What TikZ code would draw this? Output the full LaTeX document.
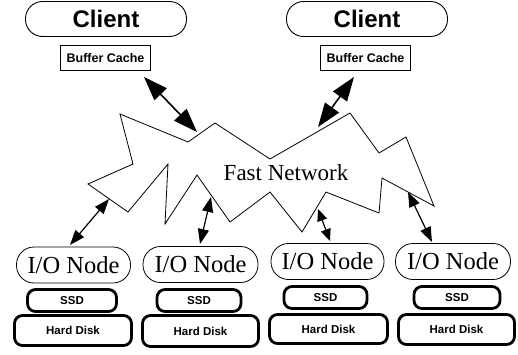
\documentclass[tikz,border=0pt]{standalone}
\usepackage{fontspec}
\setmainfont{Liberation Serif}
\setsansfont{Liberation Sans}
\usetikzlibrary{arrows.meta}
\begin{document}
\begin{tikzpicture}[x=1pt,y=-1pt,
  client/.style={draw, line width=0.9pt, rounded corners=17pt, minimum width=161pt, minimum height=35pt, inner sep=0pt, font=\sffamily\bfseries\fontsize{24}{24}\selectfont},
  cache/.style={draw, line width=0.8pt, minimum width=90pt, minimum height=25pt, inner sep=0pt, font=\sffamily\bfseries\fontsize{12.5}{12.5}\selectfont},
  ionode/.style={draw, line width=0.8pt, rounded corners=17.5pt, minimum height=36pt, inner sep=0pt, font=\fontsize{24.5}{24.5}\selectfont},
  disk/.style={draw, line width=2.8pt, rounded corners=8pt, inner sep=0pt, font=\sffamily\bfseries\fontsize{11.5}{11.5}\selectfont},
  bigarrow/.style={{Triangle[length=24pt,width=17pt]}-{Triangle[length=24pt,width=17pt]}, line width=1.6pt},
  smallarrow/.style={{Triangle[length=15pt,width=11pt]}-{Triangle[length=15pt,width=11pt]}, line width=1.2pt},
  tinyarrow/.style={{Triangle[length=12pt,width=10pt]}-{Triangle[length=12pt,width=10pt]}, line width=1.2pt},
  cloud/.style={draw, line width=0.8pt, line join=miter}
]
\useasboundingbox (0,0) rectangle (518,354);

% clients and caches
\node[client] (c1) at (106,19) {Client};
\node[client] (c2) at (367,19) {Client};
\node[cache] (b1) at (105.5,58) {Buffer Cache};
\node[cache] (b2) at (365.5,58) {Buffer Cache};

% network cloud
\draw[cloud] (120,114) -- (188,142) -- (215,123) -- (270,159) -- (350,113) -- (379,153) -- (406,137) -- (434,206) -- (382,178) -- (379,213) -- (326,192) -- (302,232) -- (270,192) -- (230,222) -- (197,175) -- (165,224) -- (168,164) -- (128,212) -- (88,184) -- (133,164) -- cycle;
\node[font=\fontsize{23}{23}\selectfont] (net) at (286,173) {Fast Network};

% I/O nodes
\node[ionode, minimum width=114pt] (n1) at (73.5,265) {I/O Node};
\node[ionode, minimum width=115pt] (n2) at (200.5,264.5) {I/O Node};
\node[ionode, minimum width=113pt] (n3) at (327.5,261.5) {I/O Node};
\node[ionode, minimum width=115pt] (n4) at (453,261.5) {I/O Node};

% SSDs
\node[disk, minimum width=89pt, minimum height=22pt] (s1) at (72,300.5) {SSD};
\node[disk, minimum width=84pt, minimum height=22pt] (s2) at (199,300.5) {SSD};
\node[disk, minimum width=83pt, minimum height=22pt] (s3) at (325.5,297.5) {SSD};
\node[disk, minimum width=86pt, minimum height=22pt] (s4) at (457,297.5) {SSD};

% Hard disks
\node[disk, minimum width=117pt, minimum height=30pt] (h1) at (73,330.5) {Hard Disk};
\node[disk, minimum width=116pt, minimum height=31pt] (h2) at (200.5,331) {Hard Disk};
\node[disk, minimum width=118pt, minimum height=29pt] (h3) at (328.5,329) {Hard Disk};
\node[disk, minimum width=116pt, minimum height=30pt] (h4) at (456.5,329.5) {Hard Disk};

% arrow end points
\coordinate (a1s) at (144,77);  \coordinate (a1e) at (197,132);
\coordinate (a2s) at (354,77);  \coordinate (a2e) at (318,127);
\coordinate (d1s) at (109,199); \coordinate (d1e) at (70,245);
\coordinate (d2s) at (211,197); \coordinate (d2e) at (200,244);
\coordinate (d3s) at (318,209); \coordinate (d3e) at (330,241);
\coordinate (d4s) at (408,192); \coordinate (d4e) at (432,242);

\draw[bigarrow] (a1s) -- (a1e);
\draw[bigarrow] (a2s) -- (a2e);
\draw[smallarrow] (d1s) -- (d1e);
\draw[smallarrow] (d2s) -- (d2e);
\draw[tinyarrow] (d3s) -- (d3e);
\draw[smallarrow] (d4s) -- (d4e);
\end{tikzpicture}
\end{document}
